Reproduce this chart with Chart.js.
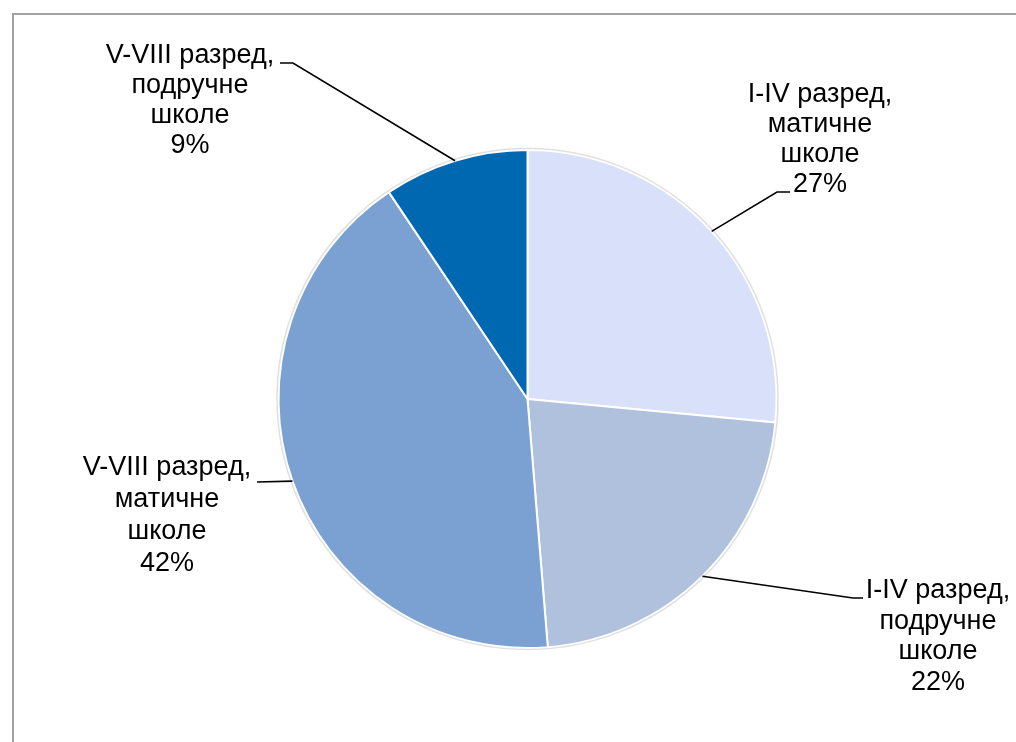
<!DOCTYPE html>
<html>
<head>
<meta charset="utf-8">
<script src="https://cdn.jsdelivr.net/npm/chart.js@4.4.0/dist/chart.umd.min.js"></script>
<style>
    html, body { margin: 0; padding: 0; background: #fff; }
    #frame { position: absolute; left: 12px; top: 13px; width: 1100px; height: 800px;
             border-left: 2px solid #a3a3a3; border-top: 2px solid #a3a3a3; }
    #wrap { position: absolute; left: 0; top: 0; width: 1016px; height: 742px; }
</style>
</head>
<body>
<div id="frame"></div>
<div id="wrap"><canvas id="pieChart"></canvas></div>
<script>
var categories = [
    ["I-IV разред,", "матичне", "школе"],
    ["I-IV разред,", "подручне", "школе"],
    ["V-VIII разред,", "матичне", "школе"],
    ["V-VIII разред,", "подручне", "школе"]
];
var shares = [26.5, 22.2, 41.9, 9.4];
var percentLabels = ["27%", "22%", "42%", "9%"];
var sliceColors = ["#d9e1fa", "#b0c1de", "#7aa1d2", "#0067b1"];

// where each data label sits and how its leader line bends
var labelLayout = [
    { x: 820, y: 102, gap: 30, path: [[777, 192], [790, 192]] },
    { x: 938, y: 598, gap: 30.7, path: [[853, 598], [863, 598]] },
    { x: 167, y: 475, gap: 32, path: [[257, 482]] },
    { x: 190, y: 63, gap: 30, path: [[293, 63], [280, 63]] }
];

var labelPlugin = {
    id: "pieLabels",
    afterDatasetsDraw: function(chart) {
        var ctx = chart.ctx;
        var arcs = chart.getDatasetMeta(0).data;
        ctx.save();
        // soft edge round the pie
        var a0 = arcs[0];
        ctx.beginPath();
        ctx.arc(a0.x, a0.y, a0.outerRadius + 1.5, 0, Math.PI * 2);
        ctx.strokeStyle = "rgba(0,0,0,0.12)";
        ctx.lineWidth = 1.5;
        ctx.stroke();

        ctx.font = "27px 'Liberation Sans', Arial, sans-serif";
        ctx.fillStyle = "#000";
        ctx.textAlign = "center";
        ctx.textBaseline = "alphabetic";
        arcs.forEach(function(arc, i) {
            var mid = (arc.startAngle + arc.endAngle) / 2;
            var px = arc.x + Math.cos(mid) * arc.outerRadius;
            var py = arc.y + Math.sin(mid) * arc.outerRadius;
            var lay = labelLayout[i];
            ctx.beginPath();
            ctx.moveTo(px, py);
            lay.path.forEach(function(p) { ctx.lineTo(p[0], p[1]); });
            ctx.strokeStyle = "#000";
            ctx.lineWidth = 1.6;
            ctx.stroke();
            var lines = categories[i].concat([percentLabels[i]]);
            lines.forEach(function(t, j) {
                ctx.fillText(t, lay.x, lay.y + j * lay.gap);
            });
        });
        ctx.restore();
    }
};

document.addEventListener("DOMContentLoaded", function() {
    var ctx1 = document.getElementById("pieChart").getContext("2d");
    var pieChart = new Chart(ctx1, {
        type: "pie",
        data: {
            labels: categories.map(function(c) { return c.join(" "); }),
            datasets: [{
                data: shares,
                backgroundColor: sliceColors,
                borderColor: "#ffffff",
                borderWidth: 2
            }]
        },
        options: {
            responsive: true,
            maintainAspectRatio: false,
            animation: false,
            layout: { padding: { left: 139, right: 100, top: 149, bottom: 93 } },
            plugins: {
                legend: { display: false },
                tooltip: { enabled: false }
            }
        },
        plugins: [labelPlugin]
    });
});
</script>
</body>
</html>
